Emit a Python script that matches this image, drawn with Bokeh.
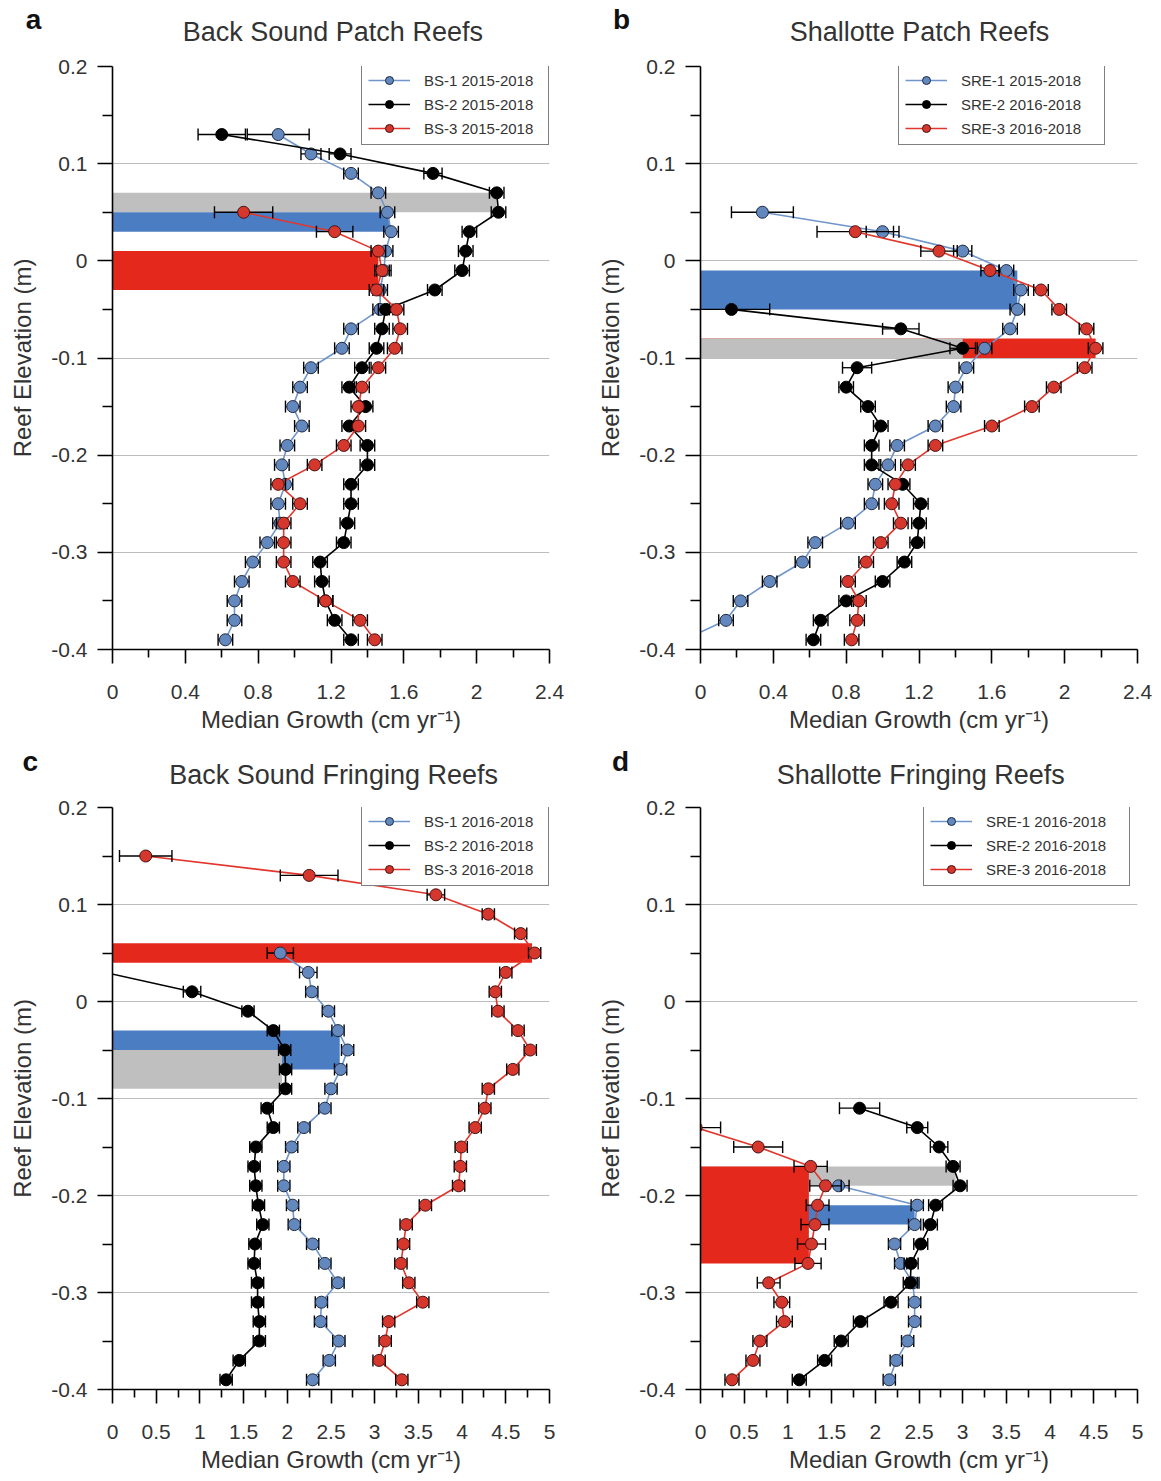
import math
from bokeh.plotting import figure
from bokeh.layouts import gridplot
from bokeh.models import (ColumnDataSource, FixedTicker, CustomJSTickFormatter,
                          Legend, LegendItem, Label)
from bokeh.embed import file_html
from bokeh.resources import INLINE

FONT = "Liberation Sans"
TXT = "#333333"

# ---------------- data ----------------
# Panel a: Back Sound Patch Reefs
a_bs1_elev = [0.13, 0.11, 0.09, 0.07, 0.05, 0.03, 0.01, -0.01, -0.03, -0.05, -0.07, -0.09, -0.11, -0.13,
              -0.15, -0.17, -0.19, -0.21, -0.23, -0.25, -0.27, -0.29, -0.31, -0.33, -0.35, -0.37, -0.39]
a_bs1_growth = [0.91, 1.09, 1.31, 1.46, 1.51, 1.53, 1.50, 1.49, 1.47, 1.47, 1.31, 1.26, 1.09, 1.03,
                0.99, 1.04, 0.96, 0.93, 0.95, 0.91, 0.92, 0.85, 0.77, 0.71, 0.67, 0.67, 0.62]
a_bs1_err = [0.17, 0.055, 0.04, 0.04, 0.04, 0.04, 0.04, 0.04, 0.04, 0.04, 0.04, 0.04, 0.04, 0.04,
             0.04, 0.04, 0.04, 0.04, 0.04, 0.04, 0.04, 0.04, 0.04, 0.04, 0.04, 0.04, 0.04]
a_bs2_elev = a_bs1_elev
a_bs2_growth = [0.60, 1.25, 1.76, 2.11, 2.12, 1.96, 1.94, 1.92, 1.77, 1.50, 1.48, 1.45, 1.37, 1.30,
                1.39, 1.30, 1.40, 1.40, 1.31, 1.31, 1.29, 1.27, 1.14, 1.15, 1.17, 1.22, 1.31]
a_bs2_err = [0.13, 0.06, 0.05, 0.04, 0.04, 0.04, 0.04, 0.04, 0.04, 0.04, 0.04, 0.04, 0.04, 0.04,
             0.04, 0.04, 0.04, 0.04, 0.04, 0.04, 0.04, 0.04, 0.04, 0.04, 0.04, 0.04, 0.04]
a_bs3_elev = [0.05, 0.03, 0.01, -0.01, -0.03, -0.05, -0.07, -0.09, -0.11, -0.13, -0.15, -0.17,
              -0.19, -0.21, -0.23, -0.25, -0.27, -0.29, -0.31, -0.33, -0.35, -0.37, -0.39]
a_bs3_growth = [0.72, 1.22, 1.46, 1.48, 1.45, 1.56, 1.58, 1.55, 1.46, 1.37, 1.35, 1.35,
                1.27, 1.11, 0.91, 1.03, 0.94, 0.94, 0.94, 0.99, 1.17, 1.36, 1.44]
a_bs3_err = [0.16, 0.10, 0.04, 0.04, 0.04, 0.04, 0.04, 0.04, 0.04, 0.04, 0.04, 0.04,
             0.04, 0.04, 0.04, 0.04, 0.04, 0.04, 0.04, 0.04, 0.04, 0.04, 0.04]
a_zone_color = ["gray", "blue", "red"]
a_zone_bottom = [0.05, 0.03, -0.03]
a_zone_top = [0.07, 0.05, 0.01]
a_zone_growth = [2.11, 1.52, 1.46]

# Panel b: Shallotte Patch Reefs
b_sre1_elev = [0.05, 0.03, 0.01, -0.01, -0.03, -0.05, -0.07, -0.09, -0.11, -0.13, -0.15, -0.17,
               -0.19, -0.21, -0.23, -0.25, -0.27, -0.29, -0.31, -0.33, -0.35, -0.37, -0.39]
b_sre1_growth = [0.34, 1.00, 1.44, 1.68, 1.76, 1.74, 1.70, 1.56, 1.46, 1.40, 1.39, 1.29,
                 1.08, 1.03, 0.96, 0.94, 0.81, 0.63, 0.56, 0.38, 0.22, 0.14, -0.09]
b_sre1_err = [0.17, 0.09, 0.05, 0.04, 0.04, 0.04, 0.04, 0.04, 0.04, 0.04, 0.04, 0.04,
              0.04, 0.04, 0.04, 0.04, 0.04, 0.04, 0.04, 0.04, 0.04, 0.04, 0.04]
b_sre2_elev = [-0.05, -0.07, -0.09, -0.11, -0.13, -0.15, -0.17, -0.19, -0.21, -0.23, -0.25, -0.27,
               -0.29, -0.31, -0.33, -0.35, -0.37, -0.39]
b_sre2_growth = [0.17, 1.10, 1.44, 0.86, 0.80, 0.92, 0.99, 0.94, 0.94, 1.11, 1.21, 1.20,
                 1.19, 1.12, 1.00, 0.80, 0.66, 0.62]
b_sre2_err = [0.21, 0.10, 0.07, 0.08, 0.04, 0.04, 0.04, 0.04, 0.04, 0.04, 0.04, 0.04,
              0.04, 0.04, 0.04, 0.04, 0.04, 0.04]
b_sre3_elev = [0.03, 0.01, -0.01, -0.03, -0.05, -0.07, -0.09, -0.11, -0.13, -0.15, -0.17, -0.19,
               -0.21, -0.23, -0.25, -0.27, -0.29, -0.31, -0.33, -0.35, -0.37, -0.39]
b_sre3_growth = [0.85, 1.31, 1.59, 1.87, 1.97, 2.12, 2.17, 2.11, 1.94, 1.82, 1.60, 1.29,
                 1.14, 1.07, 1.05, 1.10, 0.99, 0.91, 0.81, 0.87, 0.86, 0.83]
b_sre3_err = [0.21, 0.10, 0.05, 0.04, 0.04, 0.04, 0.04, 0.04, 0.04, 0.04, 0.04, 0.04,
              0.04, 0.04, 0.04, 0.04, 0.04, 0.04, 0.04, 0.04, 0.04, 0.04]
b_zone_color = ["blue", "red", "gray"]
b_zone_bottom = [-0.05, -0.10, -0.10]
b_zone_top = [-0.01, -0.08, -0.08]
b_zone_growth = [1.74, 2.17, 1.44]

# Panel c: Back Sound Fringing Reefs
c_bs1_elev = [0.05, 0.03, 0.01, -0.01, -0.03, -0.05, -0.07, -0.09, -0.11, -0.13, -0.15, -0.17,
              -0.19, -0.21, -0.23, -0.25, -0.27, -0.29, -0.31, -0.33, -0.35, -0.37, -0.39]
c_bs1_growth = [1.92, 2.24, 2.28, 2.47, 2.58, 2.69, 2.61, 2.50, 2.43, 2.19, 2.05, 1.96,
                1.96, 2.06, 2.08, 2.29, 2.43, 2.58, 2.39, 2.38, 2.59, 2.48, 2.29]
c_bs1_err = [0.15, 0.10, 0.07, 0.07, 0.07, 0.07, 0.07, 0.07, 0.07, 0.07, 0.07, 0.07,
             0.07, 0.07, 0.07, 0.07, 0.07, 0.07, 0.07, 0.07, 0.07, 0.07, 0.07]
c_bs2_elev = [0.03, 0.01, -0.01, -0.03, -0.05, -0.07, -0.09, -0.11, -0.13, -0.15, -0.17, -0.19,
              -0.21, -0.23, -0.25, -0.27, -0.29, -0.31, -0.33, -0.35, -0.37, -0.39]
c_bs2_growth = [-0.09, 0.91, 1.55, 1.84, 1.97, 1.98, 1.98, 1.77, 1.84, 1.64, 1.62, 1.64,
                1.67, 1.72, 1.63, 1.62, 1.66, 1.66, 1.68, 1.68, 1.45, 1.30]
c_bs2_err = [0.05, 0.10, 0.07, 0.07, 0.07, 0.07, 0.07, 0.07, 0.07, 0.07, 0.07, 0.07,
             0.07, 0.07, 0.07, 0.07, 0.07, 0.07, 0.07, 0.07, 0.07, 0.07]
c_bs3_elev = [0.15, 0.13, 0.11, 0.09, 0.07, 0.05, 0.03, 0.01, -0.01, -0.03, -0.05, -0.07, -0.09, -0.11,
              -0.13, -0.15, -0.17, -0.19, -0.21, -0.23, -0.25, -0.27, -0.29, -0.31, -0.33, -0.35, -0.37, -0.39]
c_bs3_growth = [0.38, 2.25, 3.70, 4.30, 4.67, 4.83, 4.50, 4.38, 4.41, 4.64, 4.78, 4.58, 4.30, 4.26,
                4.15, 3.99, 3.98, 3.96, 3.58, 3.36, 3.33, 3.30, 3.39, 3.55, 3.16, 3.12, 3.05, 3.31]
c_bs3_err = [0.30, 0.33, 0.10, 0.07, 0.07, 0.07, 0.07, 0.07, 0.07, 0.07, 0.07, 0.07, 0.07, 0.07,
             0.07, 0.07, 0.07, 0.07, 0.07, 0.07, 0.07, 0.07, 0.07, 0.07, 0.07, 0.07, 0.07, 0.07]
c_zone_color = ["red", "blue", "gray"]
c_zone_bottom = [0.04, -0.07, -0.09]
c_zone_top = [0.06, -0.03, -0.05]
c_zone_growth = [4.80, 2.60, 1.94]

# Panel d: Shallotte Fringing Reefs
d_sre1_elev = [-0.19, -0.21, -0.23, -0.25, -0.27, -0.29, -0.31, -0.33, -0.35, -0.37, -0.39]
d_sre1_growth = [1.58, 2.48, 2.45, 2.22, 2.29, 2.43, 2.45, 2.45, 2.37, 2.24, 2.16]
d_sre1_err = [0.12, 0.07, 0.07, 0.07, 0.07, 0.07, 0.07, 0.07, 0.07, 0.07, 0.07]
d_sre2_elev = [-0.11, -0.13, -0.15, -0.17, -0.19, -0.21, -0.23, -0.25, -0.27, -0.29, -0.31, -0.33,
               -0.35, -0.37, -0.39]
d_sre2_growth = [1.82, 2.48, 2.73, 2.89, 2.97, 2.69, 2.63, 2.52, 2.41, 2.40, 2.18, 1.83,
                 1.61, 1.42, 1.13]
d_sre2_err = [0.23, 0.12, 0.10, 0.08, 0.08, 0.08, 0.08, 0.08, 0.08, 0.08, 0.08, 0.08,
              0.08, 0.08, 0.08]
d_sre3_elev = [-0.13, -0.15, -0.17, -0.19, -0.21, -0.23, -0.25, -0.27, -0.29, -0.31, -0.33, -0.35,
               -0.37, -0.39]
d_sre3_growth = [-0.05, 0.66, 1.26, 1.43, 1.34, 1.31, 1.27, 1.23, 0.78, 0.93, 0.96, 0.68,
                 0.60, 0.36]
d_sre3_err = [0.28, 0.28, 0.19, 0.18, 0.13, 0.16, 0.16, 0.15, 0.13, 0.09, 0.09, 0.08,
              0.08, 0.08]
d_zone_color = ["gray", "blue", "red"]
d_zone_bottom = [-0.19, -0.23, -0.27]
d_zone_top = [-0.17, -0.21, -0.17]
d_zone_growth = [2.92, 2.45, 1.24]

elev_ticks = [-0.4, -0.3, -0.2, -0.1, 0.0, 0.1, 0.2]
elev_minor = [-0.35, -0.25, -0.15, -0.05, 0.05, 0.15]
ab_ticks = [0, 0.4, 0.8, 1.2, 1.6, 2.0, 2.4]
ab_minor = [0.2, 0.6, 1.0, 1.4, 1.8, 2.2]
cd_ticks = [0, 0.5, 1, 1.5, 2, 2.5, 3, 3.5, 4, 4.5, 5]
cd_minor = [0.25, 0.75, 1.25, 1.75, 2.25, 2.75, 3.25, 3.75, 4.25, 4.75]

ZONE_FILL = {"gray": "#bfbfbf", "blue": "#4a7dc2", "red": "#e4281c"}
STYLE = {
    "blue": dict(line="#6f95cb", fill="#6388bd", edge="#1d2a44"),
    "black": dict(line="#000000", fill="#000000", edge="#000000"),
    "red": dict(line="#e2362d", fill="#d6372d", edge="#4a1010"),
}


def make_panel(xmax, xticks, xminor, bl, fw, br, bt, fh, bb):
    p = figure(x_range=(0, xmax), y_range=(-0.4, 0.2),
               frame_width=fw, frame_height=fh,
               min_border_left=bl, min_border_right=br,
               min_border_top=bt, min_border_bottom=bb,
               output_backend="svg", toolbar_location=None)
    p.outline_line_color = None
    p.background_fill_color = "white"
    p.xgrid.visible = False
    p.ygrid.grid_line_color = "#bdbdbd"
    p.ygrid.grid_line_width = 1
    p.xaxis.ticker = FixedTicker(ticks=xticks, minor_ticks=xminor)
    p.yaxis.ticker = FixedTicker(ticks=elev_ticks, minor_ticks=elev_minor)
    fmt = "return String(Math.round(tick*100)/100);"
    for ax in (p.xaxis[0], p.yaxis[0]):
        ax.formatter = CustomJSTickFormatter(code=fmt)
        ax.axis_line_color = "black"
        ax.axis_line_width = 1.6
        ax.major_tick_line_color = "black"
        ax.major_tick_line_width = 1.6
        ax.minor_tick_line_color = "black"
        ax.minor_tick_line_width = 1.6
        ax.major_tick_in = 0
        ax.minor_tick_in = 0
        ax.major_label_text_font = FONT
        ax.major_label_text_font_size = "21px"
        ax.major_label_text_color = TXT
        ax.axis_label_text_font = FONT
        ax.axis_label_text_font_size = "24px"
        ax.axis_label_text_font_style = "normal"
        ax.axis_label_text_color = TXT
    p.xaxis.major_tick_out = 14
    p.xaxis.minor_tick_out = 8
    p.xaxis.major_label_standoff = 21
    p.xaxis.axis_label_standoff = 4
    p.xaxis.axis_label = "Median Growth (cm yr\u207b\u00b9)"
    p.yaxis.major_tick_out = 15
    p.yaxis.minor_tick_out = 10
    p.yaxis.major_label_standoff = 10
    p.yaxis.axis_label_standoff = 12
    p.yaxis.axis_label = "Reef Elevation (m)"
    return p


def add_zones(p, colors, bottoms, tops, growths):
    src = ColumnDataSource(dict(left=[0] * len(colors), right=growths, bottom=bottoms, top=tops,
                                color=[ZONE_FILL[c] for c in colors]))
    p.quad(left="left", right="right", bottom="bottom", top="top", fill_color="color",
           line_color=None, source=src)


def add_series(p, elev, growth, err, style):
    st = STYLE[style]
    src = ColumnDataSource(dict(y=elev, x=growth,
                                lo=[g - e for g, e in zip(growth, err)],
                                hi=[g + e for g, e in zip(growth, err)]))
    ln = p.line("x", "y", source=src, line_color=st["line"], line_width=1.6)
    p.segment(x0="lo", x1="hi", y0="y", y1="y", source=src, line_color="black", line_width=1.3)
    p.scatter("lo", "y", source=src, marker="dash", angle=math.pi / 2, size=12,
              line_color="black", line_width=1.4)
    p.scatter("hi", "y", source=src, marker="dash", angle=math.pi / 2, size=12,
              line_color="black", line_width=1.4)
    mk = p.scatter("x", "y", source=src, marker="circle", size=12, fill_color=st["fill"],
                   line_color=st["edge"], line_width=1)
    return [ln, mk]


def add_legend(p, labels, rends, loc, lw):
    items = [LegendItem(label=l, renderers=r) for l, r in zip(labels, rends)]
    lg = Legend(items=items, location=loc, orientation="vertical")
    lg.border_line_color = "black"
    lg.border_line_width = 1.6
    lg.background_fill_color = "white"
    lg.background_fill_alpha = 1
    lg.label_text_font = FONT
    lg.label_text_font_size = "15px"
    lg.label_text_color = TXT
    lg.glyph_width = 42
    lg.glyph_height = 20
    lg.label_height = 20
    lg.label_width = lw
    lg.label_standoff = 14
    lg.spacing = 4
    lg.padding = 6
    lg.margin = 0
    p.add_layout(lg)


def add_titles(p, title, letter, tx, ty, lx, ly):
    p.add_layout(Label(x=tx, y=ty, text=title, text_font=FONT, text_font_size="27px",
                       text_color=TXT, text_align="center", text_baseline="middle"), "above")
    p.add_layout(Label(x=lx, y=ly, text=letter, text_font=FONT, text_font_size="28px",
                       text_font_style="bold", text_color="#111111", text_align="center",
                       text_baseline="middle"), "above")


# ---- panel a ----
pa = make_panel(2.4, ab_ticks, ab_minor, 112, 437, 39, 66, 583, 95)
add_zones(pa, a_zone_color, a_zone_bottom, a_zone_top, a_zone_growth)
ra1 = add_series(pa, a_bs1_elev, a_bs1_growth, a_bs1_err, "blue")
ra2 = add_series(pa, a_bs2_elev, a_bs2_growth, a_bs2_err, "black")
ra3 = add_series(pa, a_bs3_elev, a_bs3_growth, a_bs3_err, "red")
add_legend(pa, ["BS-1 2015-2018", "BS-2 2015-2018", "BS-3 2015-2018"], [ra1, ra2, ra3], (249, 504), 118)
add_titles(pa, "Back Sound Patch Reefs", "a", 1.21, 0.235, -0.434, 0.248)

# ---- panel b ----
pb = make_panel(2.4, ab_ticks, ab_minor, 112, 437, 15, 66, 583, 95)
add_zones(pb, b_zone_color, b_zone_bottom, b_zone_top, b_zone_growth)
rb1 = add_series(pb, b_sre1_elev, b_sre1_growth, b_sre1_err, "blue")
rb2 = add_series(pb, b_sre2_elev, b_sre2_growth, b_sre2_err, "black")
rb3 = add_series(pb, b_sre3_elev, b_sre3_growth, b_sre3_err, "red")
add_legend(pb, ["SRE-1 2015-2018", "SRE-2 2016-2018", "SRE-3 2016-2018"], [rb1, rb2, rb3], (198, 504), 137)
add_titles(pb, "Shallotte Patch Reefs", "b", 1.203, 0.235, -0.434, 0.248)

# ---- panel c ----
pc = make_panel(5, cd_ticks, cd_minor, 112, 437, 39, 63, 582, 86)
add_zones(pc, c_zone_color, c_zone_bottom, c_zone_top, c_zone_growth)
rc1 = add_series(pc, c_bs1_elev, c_bs1_growth, c_bs1_err, "blue")
rc2 = add_series(pc, c_bs2_elev, c_bs2_growth, c_bs2_err, "black")
rc3 = add_series(pc, c_bs3_elev, c_bs3_growth, c_bs3_err, "red")
add_legend(pc, ["BS-1 2016-2018", "BS-2 2016-2018", "BS-3 2016-2018"], [rc1, rc2, rc3], (249, 503), 118)
add_titles(pc, "Back Sound Fringing Reefs", "c", 2.53, 0.234, -0.94, 0.247)

# ---- panel d ----
pd_ = make_panel(5, cd_ticks, cd_minor, 112, 437, 15, 63, 582, 86)
add_zones(pd_, d_zone_color, d_zone_bottom, d_zone_top, d_zone_growth)
rd1 = add_series(pd_, d_sre1_elev, d_sre1_growth, d_sre1_err, "blue")
rd2 = add_series(pd_, d_sre2_elev, d_sre2_growth, d_sre2_err, "black")
rd3 = add_series(pd_, d_sre3_elev, d_sre3_growth, d_sre3_err, "red")
add_legend(pd_, ["SRE-1 2016-2018", "SRE-2 2016-2018", "SRE-3 2016-2018"], [rd1, rd2, rd3], (223, 503), 137)
add_titles(pd_, "Shallotte Fringing Reefs", "d", 2.52, 0.234, -0.915, 0.247)

grid = gridplot([[pa, pb], [pc, pd_]], toolbar_location=None)

open("out.html", "w").write(file_html(grid, INLINE))
